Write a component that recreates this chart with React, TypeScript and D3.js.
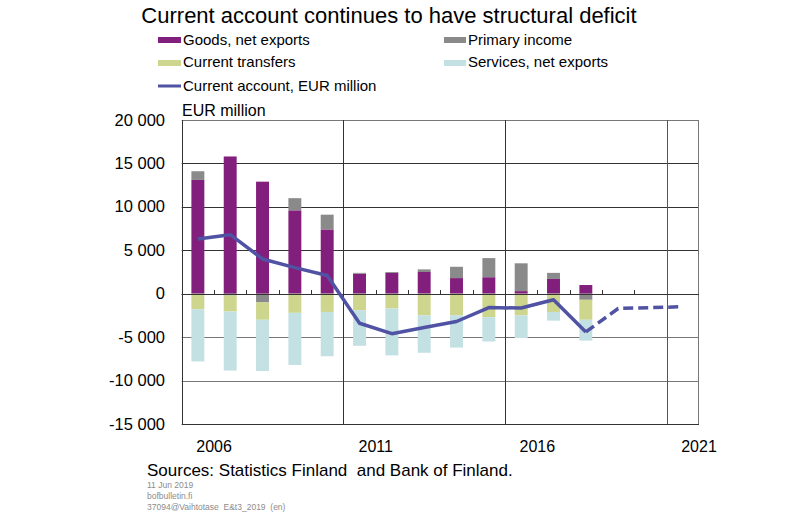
import React from "react";
import * as d3 from "d3";

const barYears = [2006, 2007, 2008, 2009, 2010, 2011, 2012, 2013, 2014, 2015, 2016, 2017, 2018];
const goods = [13100, 15800, 12900, 9600, 7400, 2300, 2400, 2500, 1800, 1900, 300, 1700, 1000];
const primaryIncome = [1000, -200, -1000, 1400, 1700, 100, 100, 300, 1300, 2200, 3200, 700, -700];
const transfers = [-1800, -1850, -2000, -2200, -2100, -1900, -1700, -2500, -2500, -2700, -2500, -2100, -2300];
const services = [-6000, -6800, -5900, -6000, -5100, -4100, -5400, -4300, -3700, -2800, -2600, -1000, -2400];

const lineYears = [2006, 2007, 2008, 2009, 2010, 2011, 2012, 2013, 2014, 2015, 2016, 2017, 2018, 2019, 2020, 2021];
const currentAccount = [6300, 6800, 4000, 3000, 2100, -3400, -4600, -3900, -3200, -1600, -1650, -700, -4400, -1700, -1600, -1500];
const lastActualYear = 2018;

const allYears = d3.range(2006, 2022);
const yTicks = [20000, 15000, 10000, 5000, 0, -5000, -10000, -15000];
const xLabelYears = [2006, 2011, 2016, 2021];
const majorBoundaries = [2011, 2016, 2021];

const keys = ["goods", "primary", "transfers", "services"];
const colors: Record<string, string> = {
  goods: "#821e7c",
  primary: "#8a8a8a",
  transfers: "#cdd68c",
  services: "#c3e0e3",
};
const lineColor = "#5053a3";

const FONT = "'Liberation Sans', Arial, sans-serif";

export default function App() {
  const left = 181.7, right = 699, top = 120, bottom = 424;
  const x = d3.scaleBand<number>().domain(allYears).range([left, right]).padding(0);
  const y = d3.scaleLinear().domain([-15000, 20000]).range([bottom, top]);
  const bw = x.bandwidth();
  const barW = bw * 0.4;

  const table = barYears.map((yr, i) => ({
    year: yr,
    goods: goods[i],
    primary: primaryIncome[i],
    transfers: transfers[i],
    services: services[i],
  }));
  const series = d3.stack<any>().keys(keys).offset(d3.stackOffsetDiverging)(table);

  const pts = lineYears.map((yr, i) => ({ year: yr, v: currentAccount[i] }));
  const lineGen = d3
    .line<{ year: number; v: number }>()
    .x((d) => (x(d.year) as number) + bw / 2)
    .y((d) => y(d.v));
  const solid = pts.filter((p) => p.year <= lastActualYear);
  const dashed = pts.filter((p) => p.year >= lastActualYear);

  const fmt2 = (v: number) => {
    const a = Math.abs(v);
    const s = a >= 1000 ? `${Math.floor(a / 1000)} ${String(a % 1000).padStart(3, "0")}` : `${a}`;
    return (v < 0 ? "-" : "") + s;
  };

  return (
    <svg
      width={800}
      height={522}
      style={{ position: "absolute", left: 0, top: 0, background: "#fff" }}
      fontFamily={FONT}
    >
      <rect x={0} y={0} width={800} height={522} fill="#fff" />
      {/* Title */}
      <text x={389} y={23} fontSize={22} textAnchor="middle" fill="#000">
        Current account continues to have structural deficit
      </text>

      {/* Legend */}
      <g fontSize={15} fill="#000">
        <rect x={158} y={37} width={23} height={6} fill={colors.goods} />
        <text x={183} y={45}>Goods, net exports</text>
        <rect x={444} y={37} width={22} height={6} fill={colors.primary} />
        <text x={468} y={45}>Primary income</text>
        <rect x={158} y={60} width={23} height={6} fill={colors.transfers} />
        <text x={183} y={67}>Current transfers</text>
        <rect x={444} y={60} width={22} height={6} fill={colors.services} />
        <text x={468} y={67}>Services, net exports</text>
        <line x1={158} x2={181} y1={86} y2={86} stroke={lineColor} strokeWidth={3} />
        <text x={183} y={91}>Current account, EUR million</text>
      </g>

      <text x={182} y={116} fontSize={16} fill="#000">EUR million</text>

      {/* Horizontal gridlines */}
      {yTicks.map((t) => (
        <line
          key={t}
          x1={left}
          x2={right}
          y1={Math.round(y(t)) + 0.5}
          y2={Math.round(y(t)) + 0.5}
          stroke={t === 20000 || t === -10000 || t === -5000 ? "#777" : "#333"}
          strokeWidth={1}
        />
      ))}
      {/* Vertical gridlines */}
      {majorBoundaries.map((yr) => (
        <line
          key={yr}
          x1={Math.round(x(yr) as number) + 0.5}
          x2={Math.round(x(yr) as number) + 0.5}
          y1={top}
          y2={bottom}
          stroke={yr === 2021 ? "#555" : "#333"}
          strokeWidth={1}
        />
      ))}
      <line x1={Math.round(left) + 0.5} x2={Math.round(left) + 0.5} y1={top} y2={bottom} stroke="#333" />
      <line x1={right - 0.5} x2={right - 0.5} y1={top} y2={bottom} stroke="#777" />

      {/* Y labels */}
      <g fontSize={16.5} fill="#000" textAnchor="end">
        {yTicks.map((t) => (
          <text key={t} x={165} y={y(t) + 5.5}>
            {fmt2(t)}
          </text>
        ))}
      </g>

      {/* Bars */}
      {series.map((s) => (
        <g key={s.key} fill={colors[s.key]}>
          {s.map((d: any, i: number) => {
            const y0 = y(d[0]);
            const y1 = y(d[1]);
            return (
              <rect
                key={i}
                x={(x(d.data.year) as number) + bw / 2 - barW / 2}
                y={Math.min(y0, y1)}
                width={barW}
                height={Math.abs(y1 - y0)}
              />
            );
          })}
        </g>
      ))}

      {/* zero line on top */}
      <line x1={left} x2={right} y1={Math.round(y(0)) + 0.5} y2={Math.round(y(0)) + 0.5} stroke="#333" />
      {/* minor ticks on zero line */}
      {allYears
        .filter((yr) => yr !== 2006 && !majorBoundaries.includes(yr))
        .map((yr) => (
          <line
            key={yr}
            x1={Math.round(x(yr) as number) + 0.5}
            x2={Math.round(x(yr) as number) + 0.5}
            y1={Math.round(y(0)) + 0.5}
            y2={Math.round(y(0)) - 4}
            stroke="#333"
          />
        ))}

      {/* Current account line */}
      <path d={lineGen(solid) || ""} fill="none" stroke={lineColor} strokeWidth={3.5} strokeLinejoin="round" />
      <path
        d={lineGen(dashed) || ""}
        fill="none"
        stroke={lineColor}
        strokeWidth={3.5}
        strokeDasharray="10 5"
        strokeLinejoin="round"
      />

      {/* X labels */}
      <g fontSize={16} fill="#000" textAnchor="middle">
        {xLabelYears.map((yr) => (
          <text key={yr} x={(x(yr) as number) + bw} y={452}>
            {yr}
          </text>
        ))}
      </g>

      {/* Footer */}
      <text x={147} y={476} fontSize={17} fill="#000" xmlSpace="preserve">
        Sources: Statistics Finland  and Bank of Finland.
      </text>
      <g fontSize={8.5} fill="#8c8c8c">
        <text x={147} y={488}>11 Jun 2019</text>
        <text x={147} y={499}>bofbulletin.fi</text>
        <text x={147} y={509.5} xmlSpace="preserve">37094@Vaihtotase  E&amp;t3_2019  (en)</text>
      </g>
    </svg>
  );
}
